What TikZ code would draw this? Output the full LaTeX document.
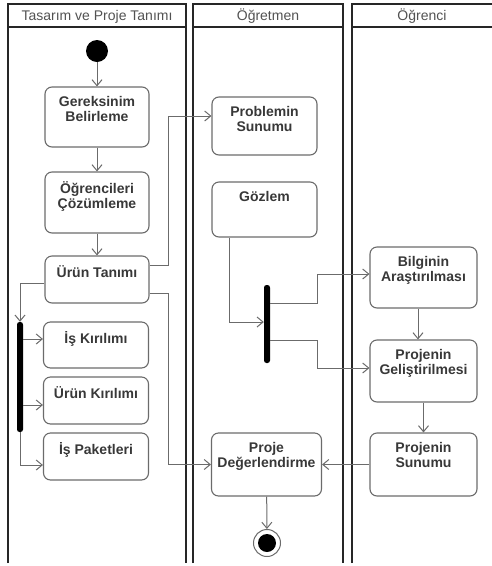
\documentclass[tikz,border=0pt]{standalone}
\usepackage{fontspec}
\setmainfont{Liberation Sans}
\usetikzlibrary{arrows.meta}
\begin{document}
\begin{tikzpicture}[x=1pt, y=-1pt,
    lane/.style={line width=1.8pt, draw=black!85},
    head/.style={font=\fontsize{14}{15}\selectfont, text=black!68},
    lbl/.style={anchor=north, yshift=-10pt, inner sep=0pt, align=center, text=black!78, font=\fontsize{14}{15}\selectfont\bfseries},
    act/.style={draw=black!58, line width=1.1pt, rounded corners=7pt, inner sep=0pt, label={[lbl]north:{#1}}},
    bar/.style={fill=black, rounded corners=2.5pt, inner sep=0pt, minimum width=6pt},
    flow/.style={draw=black!58, line width=1pt, -{Straight Barb[length=6pt,width=10pt]}}]

    \useasboundingbox (0,0) rectangle (491,566);

    \draw[lane] (8,563) -- (8,4) -- (186,4) -- (186,563);
    \draw[lane] (8,27) -- (186,27);
    \draw[lane] (193,563) -- (193,4) -- (343,4) -- (343,563);
    \draw[lane] (193,27) -- (343,27);
    \draw[lane] (352,563) -- (352,4) -- (494,4);
    \draw[lane] (352,27) -- (494,27);

    \node [head] (h1) at (97,16.5) {Tasarım ve Proje Tanımı};
    \node [head] (h2) at (268,16.5) {Öğretmen};
    \node [head] (h3) at (422,16.5) {Öğrenci};

    \node [circle, fill=black, inner sep=0pt, minimum size=22pt] (start) at (97,51) {};
    \node [act={Gereksinim\\Belirleme}, minimum width=104pt, minimum height=60pt] (ger) at (97,117) {};
    \node [act={Öğrencileri\\Çözümleme}, minimum width=104pt, minimum height=61pt] (ogr) at (97,202.5) {};
    \node [act={Ürün Tanımı}, minimum width=104pt, minimum height=47pt] (urun) at (97,279.5) {};
    \node [bar, minimum height=110pt] (fork1) at (20,377) {};
    \node [act={İş Kırılımı}, minimum width=105pt, minimum height=46pt] (isk) at (96,345) {};
    \node [act={Ürün Kırılımı}, minimum width=105pt, minimum height=47pt] (urk) at (96,400.5) {};
    \node [act={İş Paketleri}, minimum width=105pt, minimum height=47pt] (isp) at (96,456.5) {};

    \node [act={Problemin\\Sunumu}, minimum width=105pt, minimum height=58pt] (prob) at (264.5,126) {};
    \node [act={Gözlem}, minimum width=105pt, minimum height=55pt] (goz) at (264.5,209.5) {};
    \node [bar, minimum height=78pt] (fork2) at (267,324) {};
    \node [act={Proje\\Değerlendirme}, minimum width=110pt, minimum height=63pt] (deg) at (266.5,464.5) {};
    \node [circle, draw=black!58, line width=1pt, inner sep=0pt, minimum size=27pt,
        path picture={\fill[black] (path picture bounding box.center) circle (9pt);}] (final) at (267,543) {};

    \node [act={Bilginin\\Araştırılması}, minimum width=107pt, minimum height=61pt] (bil) at (423.5,277.5) {};
    \node [act={Projenin\\Geliştirilmesi}, minimum width=107pt, minimum height=62pt] (gel) at (423.5,371) {};
    \node [act={Projenin\\Sunumu}, minimum width=107pt, minimum height=63pt] (sun) at (423.5,464.5) {};

    \draw[flow] (start) -- (ger);
    \draw[flow] (ger) -- (ogr);
    \draw[flow] (ogr) -- (urun);
    \draw[flow] ([yshift=-4pt]urun.west) -| (fork1.north);
    \draw[flow] ([yshift=6pt]isk.west -| fork1.east) -- ([yshift=6pt]isk.west);
    \draw[flow] ([yshift=-4.5pt]urk.west -| fork1.east) -- ([yshift=-4.5pt]urk.west);
    \draw[flow] (fork1.south) |- ([yshift=-8.5pt]isp.west);
    \draw[flow] ([yshift=14.5pt]urun.east) -- ++(19,0) |- ([yshift=10pt]prob.west);
    \draw[flow] ([yshift=-13.5pt]urun.east) -- ++(19,0) |- (deg.west);

    \draw[flow] ([xshift=-35.5pt]goz.south) |- ([yshift=2pt]fork2.west);
    \draw[flow] ([yshift=21pt]fork2.east) -- ++(47,0) |- ([yshift=3.5pt]bil.west);
    \draw[flow] ([yshift=-16pt]fork2.east) -- ++(47,0) |- ([yshift=3pt]gel.west);
    \draw[flow] ([xshift=-5.5pt]bil.south) -- ([xshift=-5.5pt]gel.north);
    \draw[flow] (gel) -- (sun);
    \draw[flow] (sun) -- (deg);
    \draw[flow] (deg) -- (final);

\end{tikzpicture}
\end{document}
